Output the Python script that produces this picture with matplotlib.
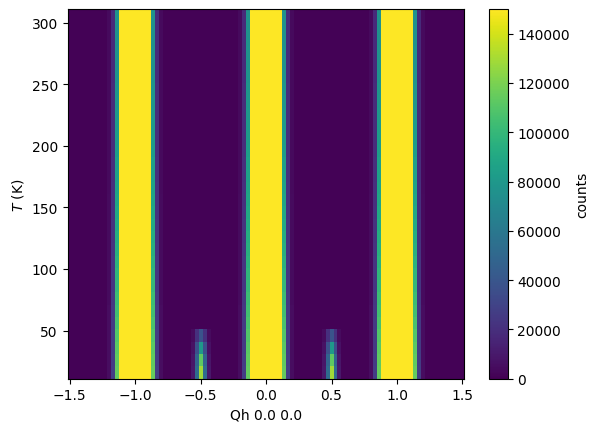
import numpy as np
import matplotlib
matplotlib.use("Agg")
import matplotlib.pyplot as plt

# Grid coordinates (cell centres)
Q = np.linspace(-1.5, 1.5, 100)
T = np.arange(16, 307, 10)          # 16 ... 306 K

# Main Bragg peaks (present at all temperatures)
main_centers = [-1.0, 0.0, 1.0]
# counts for cells moving outward from the peak centre (centre lies on a cell edge)
main_profile = [260000, 240000, 210000, 175000, 75000, 17000, 3000]
# temperature scaling of the main peaks, T = 16 ... 306 K
main_T_scale = [1.52, 1.50, 1.48, 1.45, 1.42, 1.39, 1.36, 1.33, 1.30, 1.28,
                1.25, 1.23, 1.21, 1.19, 1.17, 1.15, 1.13, 1.12, 1.10, 1.09,
                1.08, 1.06, 1.05, 1.04, 1.03, 1.02, 1.02, 1.01, 1.00, 1.00]

# Superlattice peaks at low temperature
small_centers = [-0.5, 0.5]
small_T = [16, 26, 36, 46]
small_center_counts = [128000, 112000, 80000, 38000]
small_side1_counts = [52000, 47000, 36000, 20000]
small_side2_counts = [9000, 8000, 6000, 4000]

background = 600

dq = Q[1] - Q[0]
Z = np.full((len(T), len(Q)), float(background))
for i, t in enumerate(T):
    for c in main_centers:
        for j, q in enumerate(Q):
            idx = int(round(abs(q - c) / dq - 0.5))
            if idx < len(main_profile):
                Z[i, j] += main_profile[idx] * main_T_scale[i]
for r, t in enumerate(small_T):
    i = int(np.argmin(np.abs(T - t)))
    for c in small_centers:
        jc = int(np.argmin(np.abs(Q - c)))
        Z[i, jc] += small_center_counts[r]
        for s in (-1, 1):
            Z[i, jc + s] += small_side1_counts[r]
            Z[i, jc + 2 * s] += small_side2_counts[r]

fig, ax = plt.subplots()
mesh = ax.pcolormesh(Q, T, Z, shading="nearest", cmap="viridis", vmin=0, vmax=150000)
ax.set_xlabel("Qh 0.0 0.0")
ax.set_ylabel("$T$ (K)")
cb = fig.colorbar(mesh, ax=ax)
cb.set_label("counts")
fig.savefig("out.png", dpi=100, bbox_inches="tight")
